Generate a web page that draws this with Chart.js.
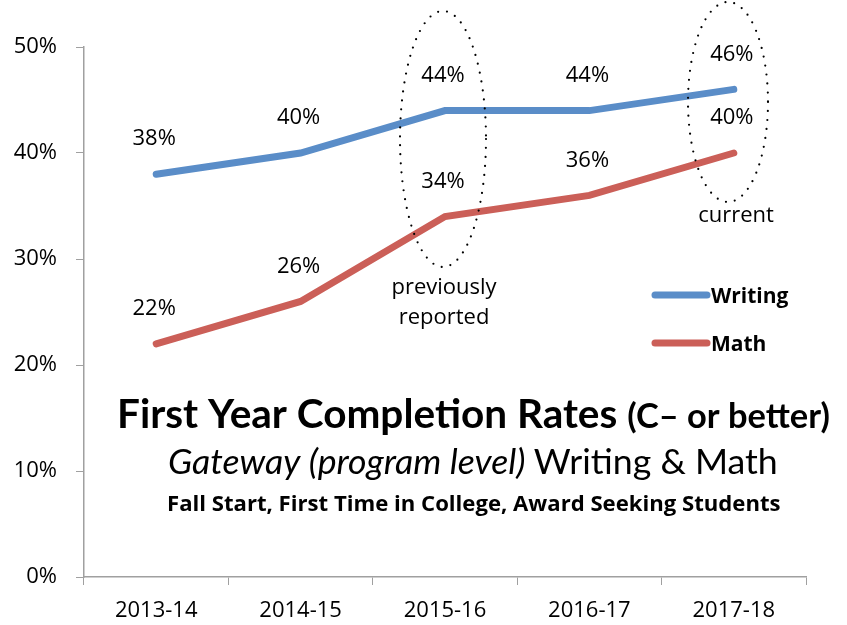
<!DOCTYPE html>
<html>
<head>
<meta charset="utf-8">
<script src="https://cdn.jsdelivr.net/npm/chart.js@4.4.0/dist/chart.umd.min.js"></script>
<style>
  html, body { margin: 0; padding: 0; background: #fff; }
  canvas { display: block; }
</style>
</head>
<body>
<canvas id="chart" width="847" height="625"></canvas>
<script>
// data
var years = ['2013-14', '2014-15', '2015-16', '2016-17', '2017-18'];
var writing = [38, 40, 44, 44, 46];
var math = [22, 26, 34, 36, 40];
var yTicks = [0, 10, 20, 30, 40, 50];

var BLUE = '#5A8DC8';
var RED = '#CB5F58';
var AXIS = '#a0a0a0';
var FONT = '"Open Sans", "Liberation Sans", sans-serif';
var TITLE_FONT = 'Lato, "Open Sans", sans-serif';

// point labels, legend, ellipses, title
var overlay = {
  id: 'overlay',
  afterDatasetsDraw: function (chart) {
    var ctx = chart.ctx;
    ctx.save();

    // value labels above each point
    ctx.fillStyle = '#000';
    ctx.font = '22px ' + FONT;
    ctx.textAlign = 'center';
    ctx.textBaseline = 'middle';
    chart.data.datasets.forEach(function (ds, i) {
      chart.getDatasetMeta(i).data.forEach(function (pt, j) {
        ctx.fillText(ds.data[j] + '%', pt.x - 2, pt.y - 35);
      });
    });

    // dotted ellipses
    ctx.strokeStyle = '#000';
    ctx.lineWidth = 2.2;
    ctx.lineCap = 'round';
    ctx.setLineDash([0, 9]);
    ctx.beginPath();
    ctx.ellipse(443, 139, 43, 128, 0, 0, Math.PI * 2);
    ctx.stroke();
    ctx.beginPath();
    ctx.ellipse(728, 102, 40, 100, 0, 0, Math.PI * 2);
    ctx.stroke();
    ctx.setLineDash([]);

    // notes
    ctx.font = '22px ' + FONT;
    ctx.fillText('previously', 444, 288);
    ctx.fillText('reported', 444, 318);
    ctx.fillText('current', 736, 216);

    // legend
    var legY = [297, 345];
    chart.data.datasets.forEach(function (ds, i) {
      ctx.strokeStyle = ds.borderColor;
      ctx.lineWidth = 7;
      ctx.lineCap = 'round';
      ctx.beginPath();
      ctx.moveTo(655, legY[i] - 2);
      ctx.lineTo(707, legY[i] - 2);
      ctx.stroke();
      ctx.fillStyle = '#000';
      ctx.font = 'bold 21px ' + FONT;
      ctx.textAlign = 'left';
      ctx.fillText(ds.label, 711, legY[i]);
    });

    // title block
    fitLine(ctx, [
      { text: 'First Year Completion Rates ', css: 'bold', rel: 1 },
      { text: '(C\u2013 or better)', css: 'bold', rel: 0.85 }
    ], 117, 830, 428, TITLE_FONT);
    fitLine(ctx, [
      { text: 'Gateway (program level) ', css: 'italic', rel: 1 },
      { text: 'Writing & Math', css: 'normal', rel: 1 }
    ], 168, 778, 474, TITLE_FONT);
    fitLine(ctx, [
      { text: 'Fall Start, First Time in College, Award Seeking Students', css: 'bold', rel: 1 }
    ], 167, 781, 511, FONT);

    ctx.restore();
  }
};

function fitLine(ctx, parts, x0, x1, base, family) {
  var size = 30;
  function font(p, s) { return p.css + ' ' + (s * p.rel).toFixed(2) + 'px ' + family; }
  var w = 0;
  parts.forEach(function (p) { ctx.font = font(p, size); w += ctx.measureText(p.text).width; });
  size = size * (x1 - x0) / w;
  var x = x0;
  ctx.fillStyle = '#000';
  ctx.textAlign = 'left';
  ctx.textBaseline = 'alphabetic';
  parts.forEach(function (p) {
    ctx.font = font(p, size);
    ctx.fillText(p.text, x, base);
    x += ctx.measureText(p.text).width;
  });
}

var lineStyle = {
  borderWidth: 7,
  pointRadius: 0,
  pointHoverRadius: 0,
  tension: 0,
  fill: false,
  borderCapStyle: 'round',
  borderJoinStyle: 'miter'
};

new Chart(document.getElementById('chart').getContext('2d'), {
  type: 'line',
  data: {
    labels: years,
    datasets: [
      Object.assign({ label: 'Writing', data: writing, borderColor: BLUE, backgroundColor: BLUE }, lineStyle),
      Object.assign({ label: 'Math', data: math, borderColor: RED, backgroundColor: RED }, lineStyle)
    ]
  },
  options: {
    responsive: false,
    animation: false,
    layout: { padding: { left: 0, top: 47, right: 41, bottom: 0 } },
    plugins: { legend: { display: false }, tooltip: { enabled: false } },
    scales: {
      x: {
        offset: true,
        grid: { offset: true, drawOnChartArea: false, color: AXIS, tickColor: AXIS, tickLength: 8 },
        border: { color: AXIS, width: 1.5 },
        ticks: { color: '#000', font: { family: FONT, size: 22 }, padding: 13, maxRotation: 0 },
        afterFit: function (s) { s.height = 48; }
      },
      y: {
        min: 0,
        max: 50,
        afterBuildTicks: function (s) { s.ticks = yTicks.map(function (v) { return { value: v }; }); },
        grid: { drawOnChartArea: false, color: AXIS, tickColor: AXIS, tickLength: 8 },
        border: { color: AXIS, width: 1.5 },
        ticks: {
          color: '#000',
          font: { family: FONT, size: 22 },
          padding: 19,
          callback: function (v) { return v + '%'; }
        },
        afterFit: function (s) { s.width = 84; }
      }
    }
  },
  plugins: [overlay]
});
</script>
</body>
</html>
